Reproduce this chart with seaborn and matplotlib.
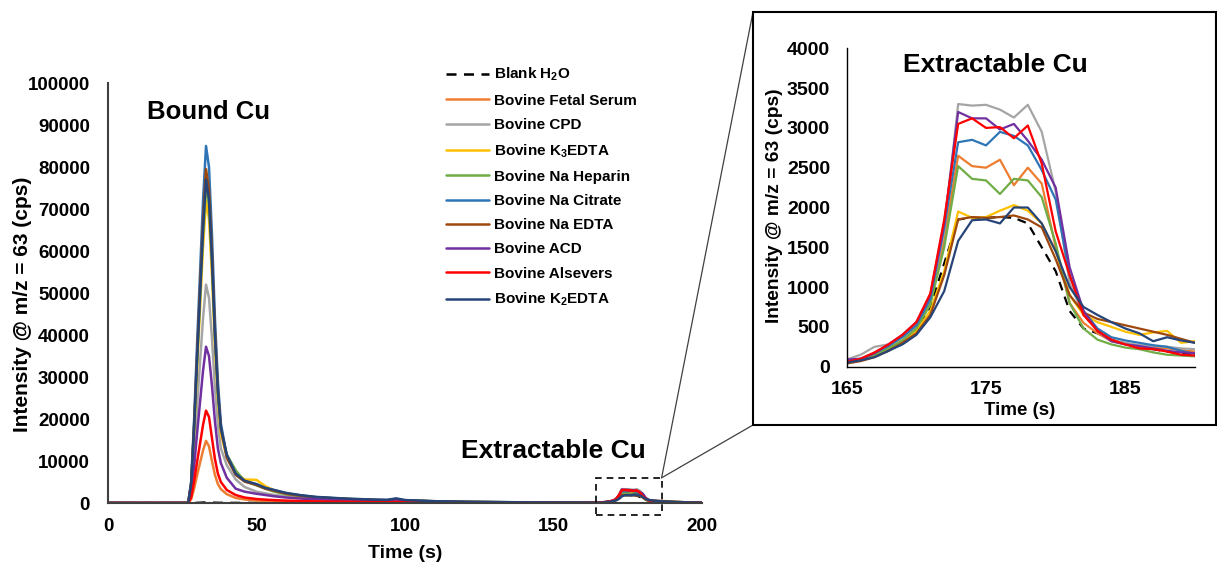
import numpy as np
import pandas as pd
import matplotlib
matplotlib.use("Agg")
import matplotlib.pyplot as plt
from matplotlib.patches import Rectangle, ConnectionPatch
import seaborn as sns

# ---------------- data ----------------
TIME = [0, 20, 27, 28, 29, 30, 31, 32, 33, 34, 35, 36, 37, 38, 40, 43, 46, 50, 53, 56, 60,
        65, 70, 80, 90, 94, 97, 100, 110, 120, 140, 160,
        165, 166, 167, 168, 169, 170, 171, 172, 173, 174, 175, 176, 177, 178, 179, 180,
        181, 182, 183, 184, 185, 186, 187, 188, 189, 190, 195, 200]

LABELS = [r"Blank H$_2$O", "Bovine Fetal Serum", "Bovine CPD", r"Bovine K$_3$EDTA",
          "Bovine Na Heparin", "Bovine Na Citrate", "Bovine Na EDTA", "Bovine ACD",
          "Bovine Alsevers", r"Bovine K$_2$EDTA"]
COLORS = ["#000000", "#ED7D31", "#A5A5A5", "#FFC000", "#70AD47", "#2E75B6",
          "#9E480E", "#7030A0", "#FF0000", "#264478"]

blank_h2o = [0, 0, 0, 5, 10, 30, 60, 100, 130, 110, 80, 60, 40, 30, 20, 15, 10, 10, 10, 10, 10,
             10, 10, 10, 10, 10, 10, 10, 10, 10, 10, 10,
             60, 90, 130, 200, 320, 470, 750, 1300, 1850, 1870, 1870, 1880, 1870, 1800, 1500, 1200,
             700, 480, 420, 340, 290, 250, 220, 190, 170, 150, 60, 30]
fetal_serum = [0, 0, 0, 900, 3500, 6600, 9600, 12500, 14800, 13500, 10000, 6700, 4500, 3300, 2100, 1200, 850, 600, 480, 400, 330,
               280, 240, 180, 150, 140, 150, 130, 100, 70, 40, 30,
               70, 90, 150, 230, 330, 480, 800, 1600, 2650, 2520, 2500, 2600, 2280, 2500, 2300, 1500,
               800, 550, 420, 320, 280, 250, 240, 230, 210, 190, 100, 60]
cpd = [0, 0, 0, 3100, 12200, 23200, 33600, 44000, 52000, 48900, 39200, 27500, 18500, 13000, 9000, 5600, 3800, 2700, 2300, 1900, 1600,
       1300, 1050, 780, 600, 560, 650, 500, 330, 220, 120, 80,
       90, 150, 250, 280, 380, 520, 850, 1700, 3300, 3280, 3290, 3230, 3130, 3290, 2950, 2200,
       1050, 650, 470, 340, 300, 270, 260, 250, 230, 220, 110, 60]
k3edta = [0, 0, 0, 4300, 16900, 32200, 46600, 61000, 72000, 67700, 54200, 37500, 24700, 16500, 11000, 7000, 5600, 5500, 4000, 3000, 2200,
          1700, 1300, 950, 700, 650, 750, 580, 380, 250, 140, 90,
          50, 80, 130, 220, 320, 450, 700, 1200, 1950, 1870, 1880, 1960, 2030, 1960, 1800, 1450,
          900, 650, 560, 500, 440, 400, 430, 450, 300, 320, 150, 80]
na_heparin = [0, 0, 0, 4500, 17700, 33700, 48800, 64000, 75500, 71000, 57000, 39500, 26000, 17500, 11500, 7800, 5200, 4200, 3400, 2700, 2100,
              1600, 1300, 950, 700, 650, 750, 580, 380, 250, 140, 90,
              60, 90, 150, 230, 330, 480, 780, 1500, 2520, 2360, 2340, 2170, 2360, 2340, 2130, 1550,
              800, 480, 340, 280, 240, 220, 180, 150, 140, 130, 80, 50]
na_citrate = [0, 0, 0, 5000, 20000, 38000, 55000, 72000, 85000, 80000, 64000, 44000, 29000, 19000, 11000, 6800, 5200, 4400, 3500, 3000, 2300,
              1800, 1400, 1000, 750, 700, 950, 650, 420, 280, 160, 110,
              70, 100, 170, 260, 370, 520, 850, 1750, 2820, 2850, 2780, 2950, 2900, 2780, 2470, 2100,
              1150, 700, 480, 370, 330, 300, 270, 250, 200, 160, 100, 60]
na_edta = [0, 0, 0, 4700, 18700, 35500, 51500, 67300, 79500, 74700, 59800, 41200, 27100, 17800, 10800, 6700, 5100, 4300, 3400, 2900, 2200,
           1700, 1350, 950, 700, 650, 850, 600, 400, 260, 150, 100,
           40, 70, 120, 200, 300, 420, 650, 1150, 1850, 1880, 1870, 1880, 1900, 1850, 1750, 1350,
           900, 680, 600, 560, 520, 480, 440, 400, 350, 300, 150, 80]
acd = [0, 0, 0, 2200, 8700, 16600, 24100, 31500, 37200, 35000, 28000, 19500, 13000, 9500, 6000, 3400, 2700, 2200, 1900, 1600, 1300,
       1050, 880, 650, 500, 460, 520, 420, 280, 190, 100, 70,
       90, 100, 170, 280, 400, 560, 900, 1800, 3200, 3120, 3120, 2980, 3050, 2840, 2600, 2250,
       1250, 700, 450, 320, 280, 260, 230, 200, 180, 170, 90, 50]
alsevers = [0, 0, 0, 1300, 5200, 9800, 14200, 18600, 22000, 20500, 15500, 10500, 7000, 5000, 3100, 1900, 1300, 950, 800, 680, 560,
            450, 380, 300, 240, 220, 240, 200, 140, 100, 60, 40,
            60, 100, 180, 280, 400, 560, 920, 1850, 3050, 3120, 3000, 3010, 2870, 3030, 2550, 1700,
            1150, 650, 450, 340, 280, 230, 220, 190, 150, 140, 80, 40]
k2edta = [0, 0, 0, 4600, 18100, 34400, 49800, 65200, 77000, 72400, 58000, 40000, 26500, 18000, 11500, 7000, 5300, 4500, 3600, 3100, 2400,
          1850, 1450, 1050, 800, 750, 1100, 700, 430, 290, 160, 110,
          50, 80, 120, 200, 280, 400, 620, 950, 1580, 1840, 1850, 1800, 2000, 2000, 1800, 1450,
          1000, 750, 650, 560, 480, 420, 320, 370, 330, 300, 150, 80]

SERIES = [blank_h2o, fetal_serum, cpd, k3edta, na_heparin, na_citrate, na_edta, acd, alsevers, k2edta]

MAIN_XTICKS = [0, 50, 100, 150, 200]
MAIN_YTICKS = list(range(0, 100001, 10000))
INSET_XTICKS = [165, 175, 185]
INSET_YTICKS = list(range(0, 4001, 500))

# ---------------- style ----------------
sns.set_style("white")
plt.rcParams["font.family"] = ["Liberation Sans", "DejaVu Sans"]
plt.rcParams["font.weight"] = "bold"
plt.rcParams["text.color"] = "black"
plt.rcParams["axes.labelcolor"] = "black"
plt.rcParams["xtick.color"] = "black"
plt.rcParams["ytick.color"] = "black"
plt.rcParams["mathtext.fontset"] = "custom"
plt.rcParams["mathtext.rm"] = "Liberation Sans:bold"
plt.rcParams["mathtext.bf"] = "Liberation Sans:bold"
plt.rcParams["mathtext.it"] = "Liberation Sans:bold"
plt.rcParams["mathtext.default"] = "bf"

df = pd.concat([pd.DataFrame({"Time": TIME, "Intensity": vals, "Sample": lab})
                for lab, vals in zip(LABELS, SERIES)], ignore_index=True)
palette = dict(zip(LABELS, COLORS))
dashes = {lab: "" for lab in LABELS}
dashes[LABELS[0]] = (4, 3)

W, H = 1217, 563
fig = plt.figure(figsize=(W / 100, H / 100), dpi=100)

def fx(px):
    return px / W

def fy(py):
    return 1 - py / H

# ---------------- main axes ----------------
ax = fig.add_axes([fx(108), fy(503), (702 - 108) / W, (503 - 83) / H])
sns.lineplot(data=df, x="Time", y="Intensity", hue="Sample", style="Sample",
             hue_order=LABELS, style_order=LABELS, palette=palette, dashes=dashes,
             estimator=None, linewidth=1.8, ax=ax)
handles, labels = ax.get_legend_handles_labels()
ax.get_legend().remove()

ax.set_xlim(0, 200)
ax.set_ylim(0, 100000)
ax.set_xticks(MAIN_XTICKS)
ax.set_yticks(MAIN_YTICKS)
ax.tick_params(axis="both", length=0, labelsize=13.5, labelcolor="black")
ax.tick_params(axis="y", pad=13)
ax.tick_params(axis="x", pad=11)
for lbl in ax.get_xticklabels() + ax.get_yticklabels():
    lbl.set_fontweight("bold")
for s in ["top", "right"]:
    ax.spines[s].set_visible(False)
for s in ["left", "bottom"]:
    ax.spines[s].set_color("#404040")
    ax.spines[s].set_linewidth(1.5)
ax.set_xlabel("Time (s)", fontsize=14, fontweight="bold", color="black")
ax.set_ylabel("Intensity @ m/z = 63 (cps)", fontsize=15, fontweight="bold", color="black")
ax.xaxis.set_label_coords(0.5, -0.10)
ax.yaxis.set_label_coords(-0.128, 0.474)

ax.text(33.7, 93100, "Bound Cu", fontsize=18.5, fontweight="bold", ha="center", va="center",
        color="black")
ax.text(149.8, 12400, "Extractable Cu", fontsize=19, fontweight="bold", ha="center", va="center",
        color="black")

rect = Rectangle((164.3, -2850), 22.1, 8850, fill=False, edgecolor="black",
                 linestyle=(0, (4, 3)), linewidth=1.2, clip_on=False, zorder=5)
ax.add_patch(rect)

# legend
leg = ax.legend(handles, labels, loc="upper left", bbox_to_anchor=(fx(446), fy(66)),
                bbox_transform=fig.transFigure, frameon=False, fontsize=11,
                handlelength=2.8, handletextpad=0.35, labelspacing=0.67,
                borderpad=0, borderaxespad=0)
for t in leg.get_texts():
    t.set_fontweight("bold")
    t.set_color("black")
for lh in leg.get_lines():
    lh.set_linewidth(1.8)

# ---------------- inset ----------------
box = Rectangle((fx(753), fy(425)), fx(1216) - fx(753), fy(12) - fy(425),
                transform=fig.transFigure, fill=False, edgecolor="black", linewidth=1.5)
fig.patches.append(box)

ax2 = fig.add_axes([fx(846.7), fy(366.7), (1195 - 846.7) / W, (366.7 - 48.3) / H])
sns.lineplot(data=df, x="Time", y="Intensity", hue="Sample", style="Sample",
             hue_order=LABELS, style_order=LABELS, palette=palette, dashes=dashes,
             estimator=None, linewidth=1.6, legend=False, ax=ax2)
ax2.set_xlim(165, 190)
ax2.set_ylim(0, 4000)
ax2.set_xticks(INSET_XTICKS)
ax2.set_yticks(INSET_YTICKS)
ax2.tick_params(axis="both", length=0, labelsize=14, labelcolor="black")
ax2.tick_params(axis="y", pad=12)
ax2.tick_params(axis="x", pad=10)
for lbl in ax2.get_xticklabels() + ax2.get_yticklabels():
    lbl.set_fontweight("bold")
for s in ["top", "right"]:
    ax2.spines[s].set_visible(False)
for s in ["left", "bottom"]:
    ax2.spines[s].set_color("black")
    ax2.spines[s].set_linewidth(1.0)
ax2.set_xlabel("Time (s)", fontsize=13.5, fontweight="bold", color="black")
ax2.set_ylabel("Intensity @ m/z = 63 (cps)", fontsize=13.8, fontweight="bold", color="black")
ax2.xaxis.set_label_coords(0.4976, -0.11)
ax2.yaxis.set_label_coords(-0.183, 0.505)
ax2.text(0.426, 0.9476, "Extractable Cu", transform=ax2.transAxes, fontsize=19,
         fontweight="bold", ha="center", va="center", color="black")

# connector lines
for py in (12, 425):
    con = ConnectionPatch(xyA=(186.4, 6000), coordsA=ax.transData,
                          xyB=(fx(753), fy(py)), coordsB=fig.transFigure,
                          color="#404040", linewidth=0.9)
    fig.add_artist(con)

fig.savefig("out.png", dpi=100)
